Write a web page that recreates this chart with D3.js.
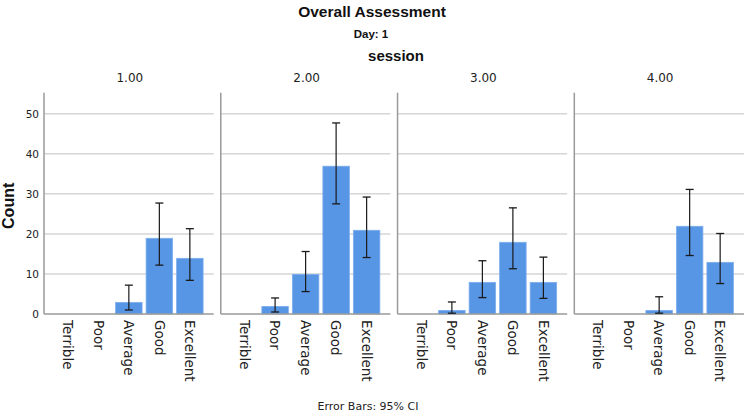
<!DOCTYPE html>
<html>
<head>
<meta charset="utf-8">
<script src="https://cdn.jsdelivr.net/npm/d3@7"></script>
<style>
  html, body { margin: 0; padding: 0; background: #fff; }
  svg { display: block; }
</style>
</head>
<body>
<svg id="chart" width="746" height="414"></svg>
<script>
// ---- data ----
const categories = ["Terrible", "Poor", "Average", "Good", "Excellent"];
const sessions = ["1.00", "2.00", "3.00", "4.00"];
const counts = [
  [0, 0, 3, 19, 14],
  [0, 2, 10, 37, 21],
  [0, 1, 8, 18, 8],
  [0, 0, 1, 22, 13]
];
const ciLow = [
  [null, null, 1.0, 12.2, 8.4],
  [null, 0.5, 5.6, 27.5, 14.1],
  [null, 0.2, 4.1, 11.3, 3.9],
  [null, null, 0.2, 14.6, 7.6]
];
const ciHigh = [
  [null, null, 7.2, 27.7, 21.3],
  [null, 4.0, 15.6, 47.7, 29.2],
  [null, 3.0, 13.3, 26.5, 14.2],
  [null, null, 4.3, 31.1, 20.1]
];
const yTicks = [0, 10, 20, 30, 40, 50];
const titleText = "Overall Assessment";
const subtitleText = "Day: 1";
const facetTitle = "session";
const yLabel = "Count";
const footnote = "Error Bars: 95% CI";

// ---- layout ----
const svg = d3.select("#chart");
const baseY = 314, topY = 93.7;
const barColor = "#5795e5";
const barEdge = "#7eaeee";
const gridColor = "#d6d6d6";
const axisColor = "#9a9a9a";
const sansFont = "'DejaVu Sans', 'Noto Sans', sans-serif";
const headFont = "'Liberation Sans Narrow', 'Liberation Sans', Arial, sans-serif";

const panelX = d3.scaleBand().domain(sessions).range([44, 744]).paddingInner(0.04);
const y = d3.scaleLinear().domain([0, 55]).range([baseY, topY]);
const xInner = d3.scaleBand().domain(categories)
  .range([0, panelX.bandwidth()]).paddingInner(0.105).paddingOuter(0.334);

// titles
svg.append("text").attr("x", 372).attr("y", 17).attr("text-anchor", "middle")
  .attr("font-family", headFont).attr("font-weight", "bold").attr("font-size", 15.5)
  .attr("fill", "#111").text(titleText);
svg.append("text").attr("x", 371).attr("y", 38).attr("text-anchor", "middle")
  .attr("font-family", headFont).attr("font-weight", "bold").attr("font-size", 11.5)
  .attr("fill", "#111").text(subtitleText);
svg.append("text").attr("x", 396).attr("y", 61).attr("text-anchor", "middle")
  .attr("font-family", headFont).attr("font-weight", "bold").attr("font-size", 15)
  .attr("fill", "#111").text(facetTitle);

// y axis label
svg.append("text")
  .attr("transform", `translate(14,${(baseY + topY) / 2 + 2}) rotate(-90)`)
  .attr("text-anchor", "middle")
  .attr("font-family", headFont).attr("font-weight", "bold").attr("font-size", 16)
  .attr("fill", "#111").text(yLabel);

// y tick labels (via axis)
const yAxis = svg.append("g").attr("transform", "translate(44,0)")
  .call(d3.axisLeft(y).tickValues(yTicks).tickSize(0).tickPadding(5));
yAxis.select(".domain").remove();
yAxis.selectAll("text").attr("font-family", sansFont).attr("font-size", 10.5).attr("fill", "#222");

// panels
sessions.forEach((s, i) => {
  const g = svg.append("g").attr("transform", `translate(${panelX(s)},0)`);
  const pw = panelX.bandwidth();

  g.append("text").attr("x", pw / 2 + 1).attr("y", 82).attr("text-anchor", "middle")
    .attr("font-family", sansFont).attr("font-size", 12).attr("fill", "#222").text(s);

  g.selectAll("line.grid").data(yTicks.filter(t => t > 0)).enter().append("line")
    .attr("x1", 0).attr("x2", pw)
    .attr("y1", d => y(d)).attr("y2", d => y(d))
    .attr("stroke", gridColor).attr("stroke-width", 1.5);

  const rows = categories.map((c, j) => ({ c, v: counts[i][j], lo: ciLow[i][j], hi: ciHigh[i][j] }));
  g.selectAll("rect.bar").data(rows.filter(d => d.v > 0)).enter().append("rect")
    .attr("x", d => xInner(d.c) + 0.4).attr("width", xInner.bandwidth() - 0.8)
    .attr("y", d => y(d.v) + 0.4).attr("height", d => baseY - y(d.v) - 0.4)
    .attr("fill", barColor).attr("stroke", barEdge).attr("stroke-width", 0.8);

  g.append("line").attr("x1", 0).attr("x2", 0).attr("y1", topY - 1).attr("y2", baseY)
    .attr("stroke", axisColor).attr("stroke-width", 1.5);
  g.append("line").attr("x1", 0).attr("x2", pw).attr("y1", baseY).attr("y2", baseY)
    .attr("stroke", axisColor).attr("stroke-width", 1.5);

  const eb = rows.filter(d => d.lo !== null);
  const cap = 4;
  const ebG = g.selectAll("g.eb").data(eb).enter().append("g")
    .attr("transform", d => `translate(${xInner(d.c) + xInner.bandwidth() / 2},0)`);
  ebG.append("line").attr("x1", 0).attr("x2", 0)
    .attr("y1", d => y(d.lo)).attr("y2", d => y(d.hi))
    .attr("stroke", "#1a1a1a").attr("stroke-width", 1.2);
  ebG.append("line").attr("x1", -cap).attr("x2", cap)
    .attr("y1", d => y(d.hi)).attr("y2", d => y(d.hi))
    .attr("stroke", "#1a1a1a").attr("stroke-width", 1.3);
  ebG.append("line").attr("x1", -cap).attr("x2", cap)
    .attr("y1", d => y(d.lo)).attr("y2", d => y(d.lo))
    .attr("stroke", "#1a1a1a").attr("stroke-width", 1.3);

  g.selectAll("text.cat").data(categories).enter().append("text")
    .attr("transform", d => `translate(${xInner(d) + xInner.bandwidth() / 2},${baseY + 6}) rotate(90)`)
    .attr("dy", "0.35em").attr("text-anchor", "start")
    .attr("font-family", sansFont).attr("font-size", 13.5).attr("fill", "#222")
    .text(d => d);
});

svg.append("text").attr("x", 368).attr("y", 410).attr("text-anchor", "middle")
  .attr("font-family", sansFont).attr("font-size", 11).attr("fill", "#222").text(footnote);
</script>
</body>
</html>
